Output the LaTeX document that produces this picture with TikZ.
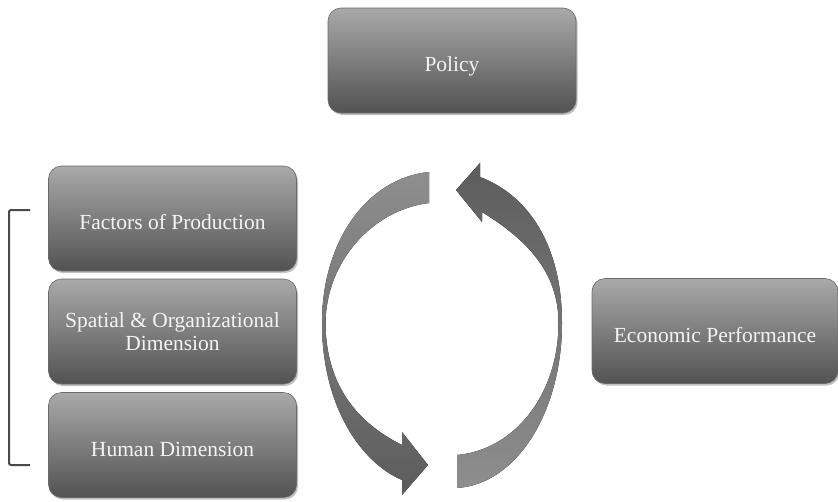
\documentclass[tikz,border=0pt]{standalone}
\usepackage{fontspec}
\setmainfont{Liberation Serif}
\usetikzlibrary{shadows}
\definecolor{boxtop}{HTML}{A9A9A9}
\definecolor{boxbot}{HTML}{525252}
\definecolor{boxedge}{HTML}{6A6A6A}
\definecolor{txt}{HTML}{F4F4F4}
\definecolor{arrlight}{HTML}{8E8E8E}
\definecolor{arrdark}{HTML}{5C5C5C}
\definecolor{brack}{HTML}{4A4A4A}
\begin{document}
\begin{tikzpicture}[x=1pt,y=-1pt,
  gbox/.style={rectangle, rounded corners=13pt, draw=boxedge, line width=0.6pt,
    top color=boxtop, bottom color=boxbot, text=txt, align=center,
    font=\fontsize{21.5}{23.5}\selectfont, text depth=0pt,
    drop shadow={shadow xshift=1.5pt, shadow yshift=-2pt, opacity=0.25, fill=black},
    minimum width=248pt, minimum height=105pt, inner sep=2pt},
  oneline/.style={text height=22pt}]
\useasboundingbox (0,0) rectangle (838,501);
% boxes
\node[gbox, oneline] (policy) at (452,60.5) {Policy};
\node[gbox, oneline] (factors) at (172.5,218.5) {Factors of Production};
\node[gbox] (spatial) at (172.5,331.5) {Spatial \& Organizational\\Dimension};
\node[gbox, oneline] (human) at (172.5,445) {Human Dimension};
\node[gbox, oneline, minimum width=246pt] (econ) at (715,331) {Economic Performance};
% bracket
\coordinate (bt) at (30,210);
\coordinate (bb) at (30,465);
\draw[brack, line width=2pt, rounded corners=2pt] (bt) -- (9,210) -- (9,465) -- (bb);
% left circular arrow (top tail, head at bottom pointing right)
\coordinate (l1) at (429,172);
\coordinate (l2) at (322,323);
\fill[top color=arrlight, bottom color=arrdark]
  (l1) .. controls (368,178) and (322,240) .. (l2)
  .. controls (322,405) and (360,462) .. (402,480)
  -- (402,495) -- (428,465) -- (402,432) -- (402,445)
  .. controls (362,425) and (326,390) .. (325.5,323)
  .. controls (326,262) and (372,210) .. (429,203) -- cycle;
% right circular arrow (bottom tail, head at top pointing left)
\coordinate (r1) at (457,488);
\coordinate (r2) at (562,323);
\fill[top color=arrdark, bottom color=arrlight]
  (r1) .. controls (518,484) and (562,410) .. (r2)
  .. controls (562,245) and (528,195) .. (480,177)
  -- (480,163) -- (456,190) -- (482,222) -- (482,212)
  .. controls (524,238) and (558.5,270) .. (558.5,323)
  .. controls (558.5,395) and (514,450) .. (457,455) -- cycle;
\end{tikzpicture}
\end{document}
